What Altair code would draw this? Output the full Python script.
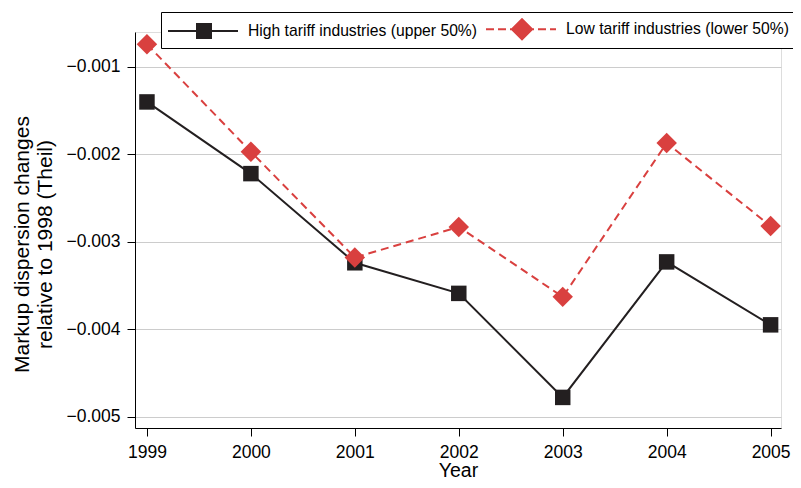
import altair as alt
import pandas as pd

years = [1999, 2000, 2001, 2002, 2003, 2004, 2005]
high = [-0.00140, -0.00222, -0.00324, -0.00359, -0.00478, -0.00323, -0.00395]
low = [-0.00074, -0.00197, -0.00318, -0.00283, -0.00363, -0.00187, -0.00282]
series_names = ["High tariff industries (upper 50%)", "Low tariff industries (lower 50%)"]
y_ticks = [-0.001, -0.002, -0.003, -0.004, -0.005]

rows = []
for y, v in zip(years, high):
    rows.append({"Year": y, "value": v, "series": series_names[0]})
for y, v in zip(years, low):
    rows.append({"Year": y, "value": v, "series": series_names[1]})
df = pd.DataFrame(rows)

FONT = "Liberation Sans"
colors = ["#231f20", "#d9403f"]

x = alt.X("Year:Q", scale=alt.Scale(domain=[1998.885, 2005.1], nice=False, zero=False),
          axis=alt.Axis(values=years, format="d", title="Year", grid=False,
                        labelFontSize=17.5, titleFontSize=19.5, titleFontWeight="normal",
                        tickSize=8, labelPadding=7, titlePadding=1,
                        domainColor="black", tickColor="black", labelColor="black",
                        titleColor="black", labelFont=FONT, titleFont=FONT))
y = alt.Y("value:Q", scale=alt.Scale(domain=[-0.00513, -0.0006], nice=False, zero=False),
          axis=alt.Axis(values=y_ticks, format=".3f",
                        labelExpr="replace(format(datum.value, '.3f'), '-', '\u2212')",
                        title=["Markup dispersion changes", "relative to 1998 (Theil)"],
                        grid=True, gridColor="#cccccc", gridWidth=1,
                        labelFontSize=17.5, titleFontSize=21, titleFontWeight="normal",
                        tickSize=8, labelPadding=7, titlePadding=0, titleLineHeight=23,
                        titleY=212, titleX=-103,
                        domainColor="black", tickColor="black", labelColor="black",
                        titleColor="black", labelFont=FONT, titleFont=FONT))

# legend symbol paths (units of 10 px): line with marker
sq_path = ("M-1,-0.1H6V0.1H-1Z "
           "M1.8,-0.8H3.4V0.8H1.8Z")
dm_path = ("M-1,-0.1H-0.2V0.1H-1Z M0.2,-0.1H1V0.1H0.2Z M1.4,-0.1H2.6V0.1H1.4Z "
           "M2.6,-0.1H3.8V0.1H2.6Z M4.2,-0.1H5V0.1H4.2Z M5.4,-0.1H6V0.1H5.4Z "
           "M2.6,-1.15L3.75,0L2.6,1.15L1.45,0Z")

legend = alt.Legend(
    title=None, orient="none", legendX=26, legendY=-20, direction="horizontal",
    labelFontSize=15.7, labelFont=FONT, labelColor="black", labelLimit=400,
    strokeColor="black", fillColor="white", padding=7, cornerRadius=0,
    symbolSize=400, symbolStrokeWidth=0, columnPadding=8, labelOffset=60,
    symbolOpacity=1,
)

base = alt.Chart(df)
high_df = base.transform_filter(alt.datum.series == series_names[0])
low_df = base.transform_filter(alt.datum.series == series_names[1])

line_high = high_df.mark_line(strokeWidth=2).encode(x=x, y=y, color=alt.value(colors[0]))
line_low = low_df.mark_line(strokeWidth=2, strokeDash=[8, 5]).encode(x=x, y=y, color=alt.value(colors[1]))

pts_high = high_df.mark_point(filled=True, opacity=1, shape="square", size=240).encode(
    x=x, y=y, color=alt.value(colors[0]))
pts_low = low_df.mark_point(filled=True, opacity=1, shape="diamond", size=420).encode(
    x=x, y=y, color=alt.value(colors[1]))

legend_layer = base.mark_point(filled=True, opacity=0).encode(
    x=x, y=y,
    color=alt.Color("series:N", scale=alt.Scale(domain=series_names, range=colors), legend=legend),
    shape=alt.Shape("series:N", scale=alt.Scale(domain=series_names, range=[sq_path, dm_path]), legend=legend),
)

chart = alt.layer(line_high, line_low, pts_high, pts_low, legend_layer).properties(
    width=646, height=396,
    autosize=alt.AutoSizeParams(type="none"),
    padding={"left": 127, "top": 24, "right": 12, "bottom": 52},
).configure_view(stroke=None).configure(background="white")

chart.save("out.html", embed_options={"renderer": "svg", "actions": False})
